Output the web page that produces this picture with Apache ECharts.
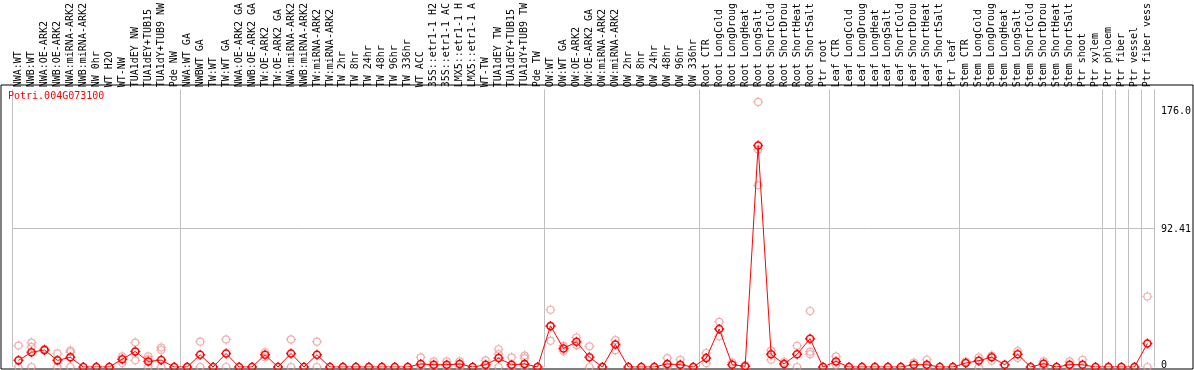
<!DOCTYPE html>
<html>
<head>
<meta charset="utf-8">
<script src="https://cdn.jsdelivr.net/npm/echarts@6/dist/echarts.min.js"></script>
<style>
html,body{margin:0;padding:0;background:#fff;}
#chart{width:1194px;height:370px;}
</style>
</head>
<body>
<div id="chart"></div>
<script>
const geneName = 'Potri.004G073100';

const categories = [
  'NWA:WT','NWB:WT','NWA:OE-ARK2','NWB:OE-ARK2','NWA:miRNA-ARK2','NWB:miRNA-ARK2','NW 0hr','WT H2O','WT-NW','TUA1dEY NW','TUA1dEY+TUB15','TUA1dY+TUB9 NW','Pde NW',
  'NWA:WT GA','NWBWT GA','TW:WT','TW:WT GA','NWA:OE-ARK2 GA','NWB:OE-ARK2 GA','TW:OE-ARK2','TW:OE-ARK2 GA','NWA:miRNA-ARK2','NWB:miRNA-ARK2','TW:miRNA-ARK2','TW:miRNA-ARK2',
  'TW 2hr','TW 8hr','TW 24hr','TW 48hr','TW 96hr','TW 336hr','WT ACC','35S::etr1-1 H2','35S::etr1-1 AC','LMX5::etr1-1 H','LMX5::etr1-1 A','WT-TW','TUA1dEY TW','TUA1dEY+TUB15','TUA1dY+TUB9 TW','Pde TW',
  'OW:WT','OW:WT GA','OW:OE-ARK2','OW:OE-ARK2 GA','OW:miRNA-ARK2','OW:miRNA-ARK2','OW 2hr','OW 8hr','OW 24hr','OW 48hr','OW 96hr','OW 336hr',
  'Root CTR','Root LongCold','Root LongDroug','Root LongHeat','Root LongSalt','Root ShortCold','Root ShortDrou','Root ShortHeat','Root ShortSalt','Ptr root',
  'Leaf CTR','Leaf LongCold','Leaf LongDroug','Leaf LongHeat','Leaf LongSalt','Leaf ShortCold','Leaf ShortDrou','Leaf ShortHeat','Leaf ShortSalt','Ptr leaf',
  'Stem CTR','Stem LongCold','Stem LongDroug','Stem LongHeat','Stem LongSalt','Stem ShortCold','Stem ShortDrou','Stem ShortHeat','Stem ShortSalt','Ptr shoot','Ptr xylem',
  'Ptr phloem','Ptr fiber','Ptr vessel','Ptr fiber vess'
];

// group start indices (vertical separators)
const groupStarts = [0, 13, 41, 53, 63, 73, 84, 85, 86, 87];

// mean expression
const meanValues = [
  4.4, 9.8, 11.3, 4.4, 6.4, 0, 0, 0, 5.2, 10.3, 3.7, 4.6, 0,
  0, 8.1, 0, 9.0, 0, 0, 8.1, 0, 9.0, 0, 8.1, 0,
  0, 0, 0, 0, 0, 0, 2.0, 1.5, 1.5, 2.0, 0, 1.5, 5.9, 1.5, 2.0, 0,
  27.3, 12.3, 16.7, 6.5, 0, 15.0, 0, 0, 0, 2.0, 1.5, 0,
  5.9, 25.2, 1.5, 0.5, 147.0, 8.4, 2.0, 8.4, 18.8, 0,
  3.7, 0, 0, 0, 0, 0, 1.5, 1.5, 0, 0,
  2.6, 4.2, 6.5, 1.5, 8.4, 0, 2.2, 0, 1.5, 1.5, 0,
  0, 0, 0, 15.6
];

// replicates (null = no point)
const rep1 = [
  14.2, 16.2, 12.0, 9.0, 10.9, null, null, null, 7.0, 16.2, 7.0, 12.9, null,
  0, 16.8, null, 18.3, null, null, 9.8, null, 18.3, null, 16.8, null,
  null, null, null, null, null, null, 6.4, 3.7, 3.7, 3.7, null, 4.4, 11.8, 6.4, 7.6, null,
  38.0, 14.0, 19.6, 13.7, null, 17.8, null, null, null, 5.9, 4.8, null,
  9.3, 30.0, 3.0, 1.2, 176.0, 11.0, 3.3, 14.1, 37.2, null,
  7.0, null, null, null, null, null, 3.0, 4.8, null, null,
  3.7, 6.4, 7.6, null, 10.6, null, 3.7, null, 3.7, 4.8, null,
  null, null, null, 46.8
];
const rep2 = [
  0, 13.3, 11.0, 0, 9.8, null, null, null, 2.6, 4.4, 5.2, 11.3, null,
  null, 0, null, 0, null, null, 6.4, null, 0, null, 0, null,
  null, null, null, null, null, null, 0, 0, 0, 0, null, 0, 8.5, 0, 5.9, null,
  17.4, 10.6, 14.5, 0, null, 11.2, null, null, null, 0, 0, null,
  2.6, 20.4, null, null, 144.4, 4.8, null, 0, 10.2, null,
  1.5, null, null, null, null, null, null, 0, null, null,
  null, 0, 4.2, null, 5.9, null, 0, null, 0, null, null,
  null, null, null, 0
];
const rep3 = [
  null, 0, null, null, 0, null, null, null, null, 10.3, 0, 0, null,
  null, null, null, null, null, null, null, null, null, null, null, null,
  null, null, null, null, null, null, null, null, null, null, null, null, 0, null, 0, null,
  27.0, null, null, null, null, null, null, null, null, null, null, null,
  null, null, null, null, 120.6, null, null, null, 8.5, null,
  null, null, null, null, null, null, null, null, null, null,
  null, null, null, null, null, null, null, null, null, null, null,
  null, null, null, null
];

const yLabelValues = [0, 92.41, 176.0];
const yLabelTexts = ['0', '92.41', '176.0'];
const yGridValues = [92.41];
const yMax = 184.4;

const repData = [];
[rep1, rep2, rep3].forEach(function (arr) {
  arr.forEach(function (v, i) { if (v !== null) repData.push([i, v]); });
});

const marker = 'path://M5,0L5,1.6M5,8.4L5,10M0,5L1.6,5M8.4,5L10,5M8.5,5A3.5,3.5,0,1,1,1.5,5A3.5,3.5,0,1,1,8.5,5Z';
const FONT = 'DejaVu Sans Mono';
const labelStyle = {color: '#000', fontSize: 10, fontFamily: FONT};

const chart = echarts.init(document.getElementById('chart'), null, {renderer: 'canvas'});
chart.setOption({
  animation: false,
  backgroundColor: '#fff',
  title: {
    text: geneName, left: 8, top: 91, padding: 0,
    textStyle: {color: '#ff0000', fontSize: 10, fontWeight: 'normal', fontFamily: FONT}
  },
  grid: [
    {left: 12, right: 38, top: 85, bottom: 1, containLabel: false},
    {left: 1, right: 1, top: 85, bottom: 1, show: true, borderColor: '#000', borderWidth: 1, backgroundColor: 'transparent'}
  ],
  xAxis: [
    {
      type: 'category', gridIndex: 0, position: 'top', data: categories, boundaryGap: true,
      axisLine: {show: false}, axisTick: {show: false},
      axisLabel: {interval: 0, rotate: 90, margin: 2, color: '#000', fontSize: 10, fontFamily: FONT},
      splitLine: {show: true, interval: function (idx) { return groupStarts.indexOf(idx) >= 0; },
                  lineStyle: {color: '#c0c0c0', width: 1}}
    },
    {type: 'value', gridIndex: 1, show: false}
  ],
  yAxis: [
    {
      type: 'value', gridIndex: 0, position: 'right', offset: 37, min: 0, max: yMax,
      axisLine: {show: false},
      axisTick: {show: false, customValues: yGridValues},
      splitLine: {show: true, lineStyle: {color: '#c0c0c0', width: 1}},
      axisLabel: {
        inside: true, align: 'left', margin: 30, color: '#000', fontSize: 10, fontFamily: FONT,
        customValues: yLabelValues,
        formatter: function (v) {
          const k = yLabelValues.findIndex(function (x) { return Math.abs(x - v) < 1e-6; });
          if (k < 0) return '';
          return '{l' + k + '|' + yLabelTexts[k] + '}';
        },
        rich: {
          l0: Object.assign({padding: [0, 0, 4, 0]}, labelStyle),
          l1: Object.assign({padding: [4, 0, 0, 0]}, labelStyle),
          l2: Object.assign({padding: [18, 0, 0, 0]}, labelStyle)
        }
      }
    },
    {type: 'value', gridIndex: 1, show: false}
  ],
  series: [
    {
      type: 'scatter', xAxisIndex: 0, yAxisIndex: 0, data: repData,
      symbol: marker, symbolSize: 10,
      itemStyle: {color: 'rgba(0,0,0,0)', borderColor: '#ec9a9a', borderWidth: 1.2},
      z: 2, silent: true
    },
    {
      type: 'line', xAxisIndex: 0, yAxisIndex: 0, data: meanValues,
      symbol: marker, symbolSize: 10, showAllSymbol: true,
      lineStyle: {color: '#ff0000', width: 1},
      itemStyle: {color: 'rgba(0,0,0,0)', borderColor: '#ff0000', borderWidth: 1.5},
      z: 3, silent: true
    }
  ]
});
</script>
</body>
</html>
